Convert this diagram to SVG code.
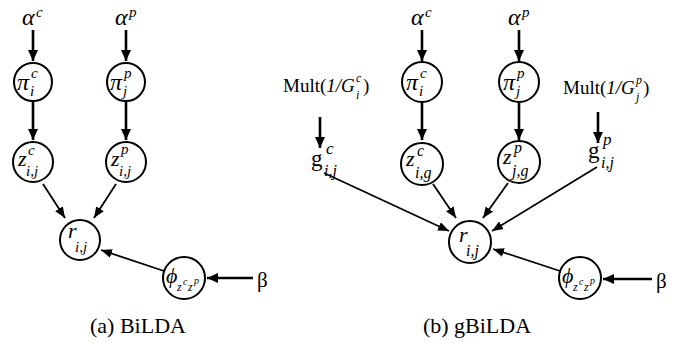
<svg xmlns="http://www.w3.org/2000/svg" width="692" height="346" viewBox="0 0 692 346">
<style>
text{font-family:"Liberation Serif","Times New Roman",serif;fill:#000}
.it{font-style:italic}
.g{font-size:24px;font-style:italic}
.b{font-size:22px;font-style:italic}
.s{font-size:15px;font-style:italic}
.t{font-size:12px;font-style:italic}
.m{font-size:19px}
.cap{font-size:22px}
circle{fill:#fff;stroke:#000;stroke-width:2}
.thick{stroke:#000;stroke-width:2.6;fill:none;marker-end:url(#ah)}
.thin{stroke:#000;stroke-width:1.8;fill:none;marker-end:url(#ah2)}
</style>
<defs>
<marker id="ah" markerUnits="userSpaceOnUse" markerWidth="12" markerHeight="10" refX="11" refY="5" orient="auto"><path d="M0,0 L11,5 L0,10 z" fill="#000"/></marker>
<marker id="ah2" markerUnits="userSpaceOnUse" markerWidth="12" markerHeight="10" refX="11" refY="4.5" orient="auto"><path d="M0,0 L11,4.5 L0,9 z" fill="#000"/></marker>
</defs>
<g id="connectors">
<line class="thick" x1="33" y1="30" x2="33" y2="61"/>
<line class="thick" x1="126" y1="30" x2="126" y2="61"/>
<line class="thick" x1="33" y1="102" x2="33" y2="140"/>
<line class="thick" x1="126" y1="102" x2="126" y2="140"/>
<line class="thin" x1="43" y1="184" x2="65" y2="218"/>
<line class="thin" x1="116" y1="184" x2="94" y2="218"/>
<line class="thin" x1="164" y1="271" x2="101" y2="250"/>
<line class="thick" x1="253" y1="278" x2="207" y2="278"/>
<line class="thick" x1="422" y1="30" x2="422" y2="61"/>
<line class="thick" x1="519" y1="30" x2="519" y2="61"/>
<line class="thick" x1="422" y1="102" x2="422" y2="140"/>
<line class="thick" x1="519" y1="102" x2="519" y2="140"/>
<line class="thick" x1="320" y1="117" x2="320" y2="148"/>
<line class="thick" x1="598" y1="112" x2="598" y2="143"/>
<line class="thin" x1="433" y1="184" x2="456" y2="218"/>
<line class="thin" x1="508" y1="183" x2="483" y2="218"/>
<line class="thin" x1="324" y1="173" x2="449" y2="231"/>
<line class="thin" x1="597" y1="167" x2="492" y2="231"/>
<line class="thin" x1="560" y1="271" x2="493" y2="249"/>
<line class="thick" x1="652" y1="279" x2="603" y2="279"/>
</g>
<g id="a-alpha-c"><text class="g" x="22" y="25">α<tspan class="s" x="36" y="17">c</tspan></text></g>
<g id="a-alpha-p"><text class="g" x="115" y="25">α<tspan class="s" x="129" y="17">p</tspan></text></g>
<g id="a-pi-c"><circle cx="33" cy="82" r="19"/><text class="g" x="17" y="90">π<tspan class="s" x="31" y="78">c</tspan><tspan class="s" x="30" y="96">i</tspan></text></g>
<g id="a-pi-p"><circle cx="126" cy="82" r="19"/><text class="g" x="110" y="90">π<tspan class="s" x="124" y="78">p</tspan><tspan class="s" x="123" y="96">j</tspan></text></g>
<g id="a-z-c"><circle cx="33" cy="162" r="20"/><text class="b" x="18" y="166">z<tspan class="s" x="28" y="155">c</tspan><tspan class="s" x="26" y="176">i,j</tspan></text></g>
<g id="a-z-p"><circle cx="126" cy="162" r="20"/><text class="b" x="111" y="166">z<tspan class="s" x="121" y="154">p</tspan><tspan class="s" x="119" y="176">i,j</tspan></text></g>
<g id="a-r"><circle cx="80" cy="240" r="20"/><text class="b" x="68" y="238">r<tspan class="s" x="75" y="252">i,j</tspan></text></g>
<g id="a-phi"><circle cx="184" cy="278" r="21"/><text class="b" x="166" y="283">ϕ<tspan class="t" x="177" y="291">z</tspan><tspan class="t" x="183" y="285" style="font-size:10px">c</tspan><tspan class="t" x="188" y="291">z</tspan><tspan class="t" x="194" y="284" style="font-size:10px">p</tspan></text></g>
<g id="a-beta"><text x="257" y="287" style="font-size:21px">β</text></g>
<g id="b-alpha-c"><text class="g" x="411" y="25">α<tspan class="s" x="425" y="17">c</tspan></text></g>
<g id="b-alpha-p"><text class="g" x="508" y="25">α<tspan class="s" x="522" y="17">p</tspan></text></g>
<g id="b-pi-c"><circle cx="422" cy="82" r="20"/><text class="g" x="406" y="90">π<tspan class="s" x="420" y="78">c</tspan><tspan class="s" x="419" y="96">i</tspan></text></g>
<g id="b-pi-p"><circle cx="519" cy="82" r="20"/><text class="g" x="503" y="90">π<tspan class="s" x="517" y="78">p</tspan><tspan class="s" x="516" y="96">j</tspan></text></g>
<g id="b-mult-c"><text class="m" x="283" y="92">Mult(<tspan class="it">1/G</tspan><tspan class="it" x="356" y="82" style="font-size:12px">c</tspan><tspan class="it" x="356" y="99" style="font-size:12px">i</tspan><tspan x="363" y="92">)</tspan></text></g>
<g id="b-mult-p"><text class="m" x="563" y="94">Mult(<tspan class="it">1/G</tspan><tspan class="it" x="636" y="84" style="font-size:12px">p</tspan><tspan class="it" x="636" y="101" style="font-size:12px">j</tspan><tspan x="643" y="94">)</tspan></text></g>
<g id="b-g-c"><text x="311" y="166" style="font-size:23px">g<tspan class="s" x="326" y="154" style="font-size:17px">c</tspan><tspan class="s" x="324" y="176" style="font-size:16px">i,j</tspan></text></g>
<g id="b-g-p"><text x="588" y="158" style="font-size:23px">g<tspan class="s" x="603" y="145" style="font-size:17px">p</tspan><tspan class="s" x="601" y="168" style="font-size:16px">i,j</tspan></text></g>
<g id="b-z-c"><circle cx="422" cy="164" r="21"/><text class="b" x="406" y="166">z<tspan class="s" x="417" y="156" style="font-size:16px">c</tspan><tspan class="s" x="415" y="178" style="font-size:16px">i,g</tspan></text></g>
<g id="b-z-p"><circle cx="519" cy="162" r="21"/><text class="b" x="503" y="164">z<tspan class="s" x="514" y="153" style="font-size:16px">p</tspan><tspan class="s" x="512" y="176" style="font-size:16px">j,g</tspan></text></g>
<g id="b-r"><circle cx="470" cy="242" r="21"/><text class="b" x="459" y="242">r<tspan class="s" x="466" y="256" style="font-size:16px">i,j</tspan></text></g>
<g id="b-phi"><circle cx="580" cy="278" r="21"/><text class="b" x="562" y="283">ϕ<tspan class="t" x="573" y="291">z</tspan><tspan class="t" x="579" y="285" style="font-size:10px">c</tspan><tspan class="t" x="584" y="291">z</tspan><tspan class="t" x="590" y="284" style="font-size:10px">p</tspan></text></g>
<g id="b-beta"><text x="656" y="288" style="font-size:21px">β</text></g>
<g id="captions"><text class="cap" x="138" y="333" text-anchor="middle">(a) BiLDA</text><text class="cap" x="477" y="333" text-anchor="middle">(b) gBiLDA</text></g>
</svg>
